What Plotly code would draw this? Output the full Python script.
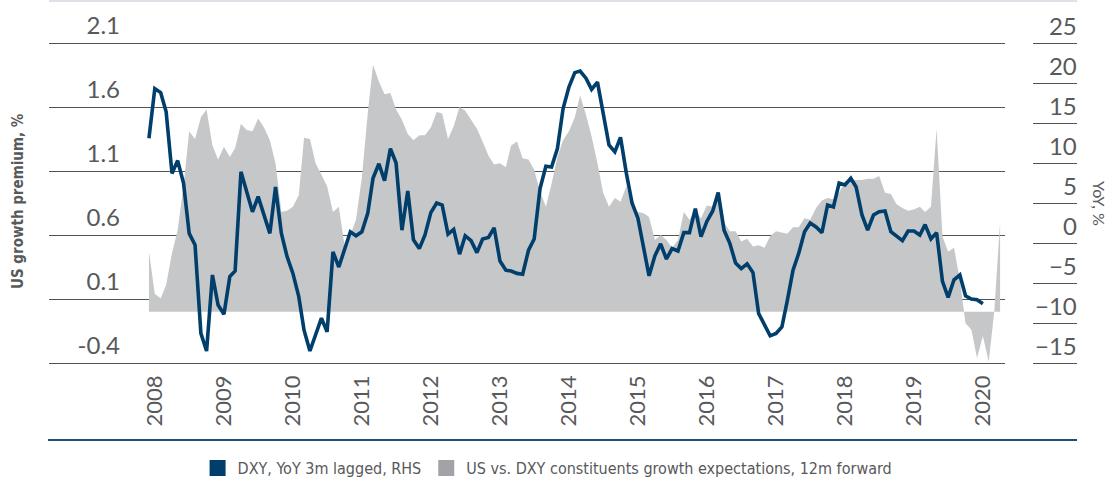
import pandas as pd
import plotly.graph_objects as go

# ---- data (monthly, Dec 2007 onward) ----
start_month = "2007-12-01"

us_growth_premium = [
    0.47, 0.14, 0.105, 0.21, 0.46, 0.64, 0.98, 1.41, 1.35, 1.52,
    1.58, 1.30, 1.19, 1.29, 1.21, 1.28, 1.47, 1.42, 1.41, 1.51,
    1.44, 1.34, 1.16, 0.78, 0.79, 0.82, 0.91, 1.36, 1.35, 1.16,
    1.07, 0.98, 0.78, 0.82, 0.52, 0.60, 0.72, 1.05, 1.55, 1.93,
    1.80, 1.70, 1.71, 1.58, 1.50, 1.39, 1.34, 1.38, 1.38, 1.44,
    1.56, 1.55, 1.35, 1.45, 1.60, 1.57, 1.50, 1.43, 1.33, 1.22,
    1.15, 1.16, 1.13, 1.30, 1.33, 1.20, 1.19, 1.11, 0.94, 0.82,
    1.00, 1.21, 1.34, 1.41, 1.52, 1.69, 1.54, 1.37, 1.16, 0.93,
    0.82, 0.89, 0.86, 0.98, 0.82, 0.78, 0.77, 0.74, 0.56, 0.60,
    0.56, 0.50, 0.56, 0.78, 0.72, 0.80, 0.73, 0.83, 0.82, 0.90,
    0.70, 0.63, 0.63, 0.55, 0.57, 0.51, 0.52, 0.50, 0.59, 0.63,
    0.62, 0.61, 0.66, 0.66, 0.73, 0.72, 0.81, 0.87, 0.89, 0.88,
    0.93, 1.02, 1.03, 1.03, 1.03, 1.04, 1.04, 1.06, 0.93, 0.92,
    0.84, 0.81, 0.79, 0.80, 0.82, 0.78, 0.82, 1.43, 0.59, 0.47,
    0.50, 0.25, -0.09, -0.14, -0.36, -0.19, -0.39, 0.0, 0.70,
]

dxy_yoy = [
    13.1, 19.3, 18.8, 16.4, 8.7, 10.3, 7.5, 1.2, -0.25, -11.3,
    -13.5, -4.0, -7.75, -8.9, -4.2, -3.5, 8.9, 6.6, 3.9, 5.8,
    3.3, 1.2, 7.0, 1.2, -1.7, -3.8, -6.7, -10.9, -13.5, -11.5,
    -9.4, -11.1, -1.1, -3.0, -0.7, 1.4, 0.9, 1.4, 3.7, 8.1,
    9.9, 7.8, 11.8, 10.0, 1.6, 6.5, 0.4, -0.7, 1.0, 3.8,
    5.0, 4.75, 1.1, 1.7, -1.4, 0.9, 0.3, -1.2, 0.5, 0.7,
    1.9, -2.25, -3.4, -3.5, -3.8, -3.9, -0.9, 0.5, 6.8, 9.6,
    9.5, 11.8, 16.8, 19.5, 21.3, 21.5, 20.6, 19.2, 20.1, 16.0,
    12.25, 11.4, 13.2, 8.7, 5.0, 3.1, -0.9, -4.1, -1.6, -0.1,
    -2.0, -0.7, -1.0, 1.3, 1.3, 4.3, 0.8, 2.7, 4.0, 6.3,
    1.6, 0.0, -2.5, -3.2, -2.6, -3.7, -8.8, -10.25, -11.6, -11.3,
    -10.5, -7.3, -3.4, -1.3, 1.4, 2.5, 2.0, 1.3, 4.75, 4.5,
    7.5, 7.25, 8.1, 7.0, 3.5, 1.6, 3.5, 3.9, 4.0, 1.4,
    0.8, 0.3, 1.5, 1.5, 1.0, 2.3, 0.5, 1.3, -4.8, -6.8,
    -4.6, -4.0, -6.6, -7.0, -7.1, -7.6,
]

years = list(range(2008, 2021))
left_ticks = [-0.4, 0.1, 0.6, 1.1, 1.6, 2.1]
right_ticks = [-15, -10, -5, 0, 5, 10, 15, 20, 25]

name_dxy = "DXY, YoY 3m lagged, RHS"
name_gap = "US vs. DXY constituents growth expectations, 12m forward"

dates_gap = pd.date_range(start_month, periods=len(us_growth_premium), freq="MS")
dates_dxy = pd.date_range(start_month, periods=len(dxy_yoy), freq="MS")

NAVY = "#003e6b"
GRAY_AREA = "#c6c7c9"
GRAY_LEG = "#a2a3a7"
TXT = "#58595b"
GRID = "#555555"
COND = "DejaVu Sans Condensed, Liberation Sans Narrow, Roboto Condensed, Roboto"
TICKFONT = dict(family="Lato", size=24, color=TXT)

# geometry: plot area 5..370 px tall (365 px), 128 px per left unit, 8 px per right unit
PTOP, PBOT = 5, 370
PH = float(PBOT - PTOP)
y_lo = -0.4 - 7 / 128
y_hi = y_lo + PH / 128
y2_lo = -15 - 7 / 8
y2_hi = y2_lo + PH / 8


def py(px):
    return (PBOT - px) / PH


fig = go.Figure()

fig.add_trace(go.Scatter(
    x=dates_gap, y=us_growth_premium, mode="lines", fill="tozeroy",
    fillcolor=GRAY_AREA, line=dict(width=0, color=GRAY_AREA),
    showlegend=False, yaxis="y", hoverinfo="skip",
))
fig.add_trace(go.Scatter(
    x=dates_dxy, y=dxy_yoy, mode="lines",
    line=dict(width=3.6, color=NAVY), showlegend=False, yaxis="y2",
))
# legend keys (square swatches)
fig.add_trace(go.Scatter(x=[None], y=[None], mode="markers", name=name_dxy,
                         marker=dict(symbol="square", size=16, color=NAVY, line=dict(width=0))))
fig.add_trace(go.Scatter(x=[None], y=[None], mode="markers", name=name_gap,
                         marker=dict(symbol="square", size=16, color=GRAY_LEG, line=dict(width=0))))

fig.update_layout(
    width=1114, height=481,
    margin=dict(l=49, r=37, t=PTOP, b=481 - PBOT),
    paper_bgcolor="white", plot_bgcolor="white",
    showlegend=True,
    legend=dict(orientation="h", x=0.485, xanchor="center",
                yref="container", y=(481 - 468) / 481, yanchor="middle",
                font=dict(family=COND, size=16, color=TXT),
                itemclick=False, traceorder="normal"),
    xaxis=dict(
        type="date", domain=[0, 956 / 1028],
        range=["2006-06-20", "2020-04-27"],
        tickvals=[f"{y}-01-01" for y in years], ticktext=[str(y) for y in years],
        tickangle=-90, ticks="", showgrid=False, showline=False, zeroline=False,
        tickfont=dict(family="Lato", size=22, color=TXT), ticklabelstandoff=0,
        automargin=False,
    ),
    yaxis=dict(
        range=[y_lo, y_hi], tickvals=left_ticks,
        ticktext=[f"{v:.1f}" for v in left_ticks],
        anchor="free", position=71 / 1028, side="left",
        showgrid=True, gridcolor=GRID, gridwidth=1, zeroline=False, showline=False,
        ticks="", tickfont=TICKFONT, ticklabelshift=-17, ticklabelstandoff=0,
        automargin=False,
    ),
    yaxis2=dict(
        range=[y2_lo, y2_hi], tickvals=right_ticks, overlaying="y", side="right",
        anchor="free", position=1.0, showgrid=False, zeroline=False, showline=False,
        ticks="inside", ticklen=44, tickcolor=GRID, tickwidth=1,
        ticklabelposition="inside", ticklabelshift=-16, ticklabelstandoff=-42,
        tickfont=TICKFONT, automargin=False,
    ),
    annotations=[
        dict(text="US growth premium, %", textangle=-90, xref="paper", yref="paper",
             x=-31 / 1028, y=py(201), showarrow=False, xanchor="center", yanchor="middle",
             font=dict(family=COND, size=15, color=TXT, weight="bold")),
        dict(text="YoY, %", textangle=90, xref="paper", yref="paper",
             x=(1100 - 49) / 1028, y=py(203), showarrow=False, xanchor="center", yanchor="middle",
             font=dict(family="Lato", size=16, color=TXT)),
    ],
    shapes=[
        dict(type="line", xref="paper", yref="paper", x0=0, x1=1, y0=py(1), y1=py(1),
             line=dict(color="#dde1e8", width=2)),
        dict(type="line", xref="paper", yref="paper", x0=-0.001, x1=1, y0=py(440), y1=py(440),
             line=dict(color="#1f4e79", width=2)),
    ],
)

fig.write_html("out.html", config={"displayModeBar": False},
               post_script="document.body.style.margin='0px';")
